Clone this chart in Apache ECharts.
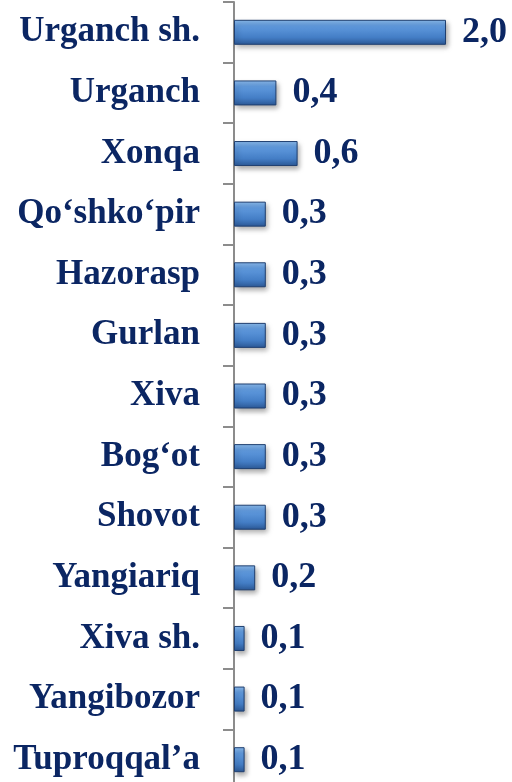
<!DOCTYPE html>
<html>
<head>
<meta charset="utf-8">
<script src="https://cdn.jsdelivr.net/npm/echarts@6/dist/echarts.min.js"></script>
<style>
  html, body { margin: 0; padding: 0; background: #fff; }
  #chart { width: 512px; height: 782px; }
</style>
</head>
<body>
<div id="chart"></div>
<script>
// tumanlar (yuqoridan pastga)
let districts = ['Urganch sh.', 'Urganch', 'Xonqa', 'Qo‘shko‘pir', 'Hazorasp', 'Gurlan', 'Xiva',
    'Bog‘ot', 'Shovot', 'Yangiariq', 'Xiva sh.', 'Yangibozor', 'Tuproqqal’a'];
let shares = [2.0, 0.4, 0.6, 0.3, 0.3, 0.3, 0.3, 0.3, 0.3, 0.2, 0.1, 0.1, 0.1];

let TEXT_COLOR = '#0b2663';
let FONT = '"Liberation Serif", serif';

let myChart = echarts.init(document.getElementById('chart'));
let option = {
    animation: false,
    grid: {
        left: 234,
        top: 2,
        width: 318,
        height: 788,
        containLabel: false,
        outerBoundsMode: 'none'
    },
    xAxis: {
        type: 'value',
        min: 0,
        max: 3,
        show: false
    },
    yAxis: {
        type: 'category',
        inverse: true,
        data: districts,
        axisLine: {lineStyle: {color: '#8c8c8c', width: 2}},
        axisTick: {show: true, length: 11, lineStyle: {color: '#8c8c8c', width: 2}},
        axisLabel: {
            margin: 34,
            color: TEXT_COLOR,
            fontFamily: FONT,
            fontWeight: 'bold',
            fontSize: 35
        }
    },
    series: [{
        type: 'bar',
        data: shares,
        barWidth: 25,
        itemStyle: {
            color: new echarts.graphic.LinearGradient(0, 0, 0, 1, [
                {offset: 0, color: '#8cbcee'},
                {offset: 0.25, color: '#609ade'},
                {offset: 0.7, color: '#447ec6'},
                {offset: 1, color: '#2b5896'}
            ]),
            borderColor: '#1f3f70',
            borderWidth: 1,
            shadowColor: 'rgba(0,0,0,0.35)',
            shadowBlur: 5,
            shadowOffsetX: 2,
            shadowOffsetY: 3
        },
        label: {
            show: true,
            position: 'right',
            distance: 16,
            color: TEXT_COLOR,
            fontFamily: FONT,
            fontWeight: 'bold',
            fontSize: 36,
            formatter: function (p) {
                return p.value.toFixed(1).replace('.', ',');
            }
        }
    }]
};
myChart.setOption(option);
</script>
</body>
</html>
